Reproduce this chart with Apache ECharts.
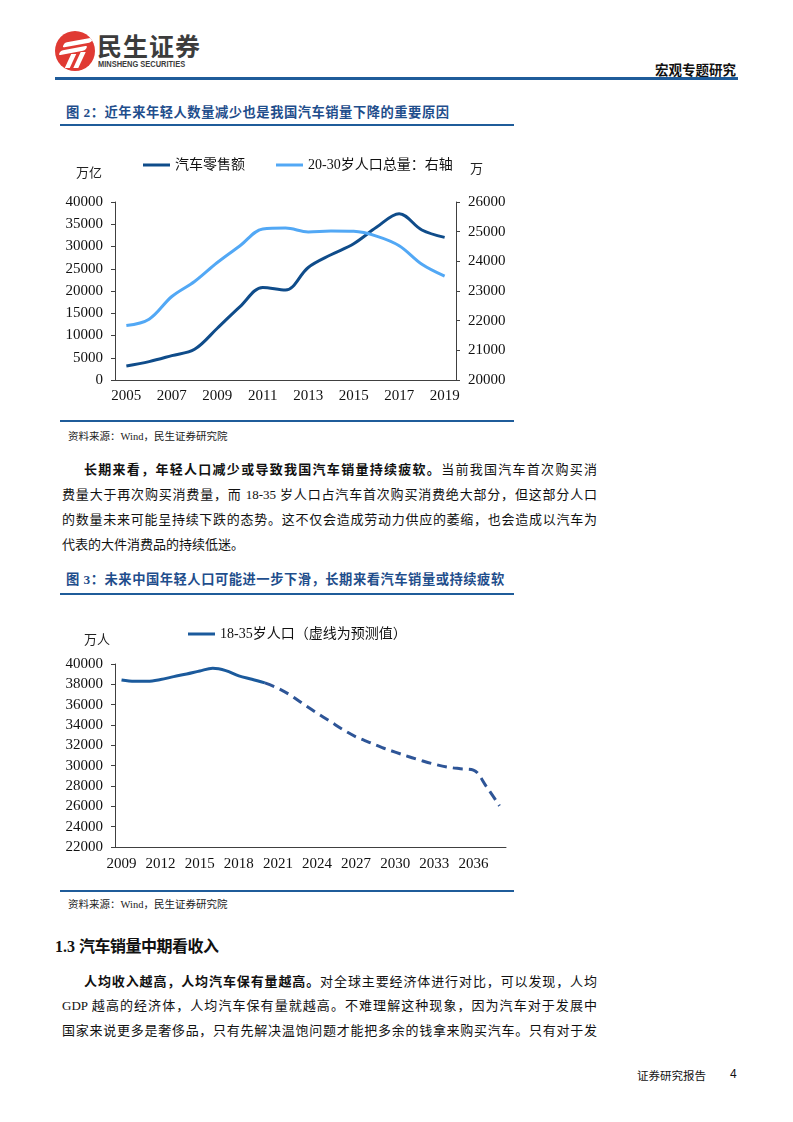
<!DOCTYPE html>
<html><head><meta charset="utf-8">
<script src="https://cdn.jsdelivr.net/npm/echarts@6/dist/echarts.min.js"></script>
<style>
html,body{margin:0;padding:0;background:#fff;}
#page{position:relative;width:793px;height:1122px;overflow:hidden;background:#fff;font-family:"Liberation Serif","Noto Sans CJK SC",serif;color:#111;}
.abs{position:absolute;}
.hline{position:absolute;background:#1F5C9A;}
.ftitle{position:absolute;left:66px;font-size:13.3px;font-weight:700;color:#1F4E8C;letter-spacing:0.5px;white-space:nowrap;line-height:16px;}
.src{position:absolute;left:68px;font-size:10.5px;color:#222;white-space:nowrap;line-height:14px;}
.ln{position:absolute;left:62px;width:535px;font-size:13px;line-height:16px;text-align:justify;text-align-last:justify;color:#111;}
.ln.ind{left:84px;width:513px;}
.ln.last{text-align-last:left;letter-spacing:0;}
.ln b{font-weight:700;}
</style></head>
<body><div id="page">
  <!-- logo -->
  <div class="abs" style="left:55px;top:31px;width:40px;height:40px;border-radius:50%;background:#E03A33;overflow:hidden;">
    <div class="abs" style="left:10px;top:9px;width:26px;height:5px;background:#fff;transform:skewX(-35deg) rotate(-12deg);border-radius:2px;"></div>
    <div class="abs" style="left:6px;top:17px;width:24px;height:5px;background:#fff;transform:skewX(-35deg) rotate(-12deg);border-radius:2px;"></div>
    <div class="abs" style="left:13px;top:23px;width:5px;height:14px;background:#fff;transform:skewX(-25deg);"></div>
    <div class="abs" style="left:22px;top:21px;width:5px;height:16px;background:#fff;transform:skewX(-25deg);"></div>
  </div>
  <div class="abs" style="left:97px;top:30px;font-family:'Noto Sans CJK SC';font-weight:700;font-size:25px;line-height:30px;color:#3C3C3C;letter-spacing:1px;">民生证券</div>
  <div class="abs" style="left:98px;top:59px;font-family:'Liberation Sans','Noto Sans';font-weight:700;font-size:8.3px;line-height:10px;color:#3C3C3C;transform:scaleX(0.9);transform-origin:left;">MINSHENG SECURITIES</div>
  <div class="abs" style="left:655px;top:61px;font-family:'Noto Sans CJK SC';font-weight:700;font-size:13.5px;line-height:16px;color:#111;">宏观专题研究</div>
  <div class="hline" style="left:55px;top:77px;width:683px;height:3px;"></div>

  <!-- figure 2 -->
  <div class="ftitle" style="top:104px;"><span style="font-family:'Noto Sans CJK SC'">图</span> 2<span style="font-family:'Noto Sans CJK SC'">：近年来年轻人数量减少也是我国汽车销量下降的重要原因</span></div>
  <div class="hline" style="left:60px;top:124px;width:454px;height:2px;"></div>
  <div id="c1" class="abs" style="left:60px;top:130px;width:460px;height:285px;"></div>
  <div class="hline" style="left:60px;top:420px;width:454px;height:2px;"></div>
  <div class="src" style="top:430px;">资料来源：Wind，民生证券研究院</div>

  <div class="ln ind" style="top:462px;"><b>长期来看，年轻人口减少或导致我国汽车销量持续疲软。</b>当前我国汽车首次购买消</div>
  <div class="ln" style="top:487px;">费量大于再次购买消费量，而 18-35 岁人口占汽车首次购买消费绝大部分，但这部分人口</div>
  <div class="ln" style="top:512px;">的数量未来可能呈持续下跌的态势。这不仅会造成劳动力供应的萎缩，也会造成以汽车为</div>
  <div class="ln last" style="top:537px;">代表的大件消费品的持续低迷。</div>

  <!-- figure 3 -->
  <div class="ftitle" style="top:571px;"><span style="font-family:'Noto Sans CJK SC'">图</span> 3<span style="font-family:'Noto Sans CJK SC'">：未来中国年轻人口可能进一步下滑，长期来看汽车销量或持续疲软</span></div>
  <div class="hline" style="left:60px;top:593px;width:454px;height:2px;"></div>
  <div id="c2" class="abs" style="left:60px;top:600px;width:460px;height:290px;"></div>
  <div class="hline" style="left:60px;top:890px;width:454px;height:2px;"></div>
  <div class="src" style="top:898px;">资料来源：Wind，民生证券研究院</div>

  <div class="abs" style="left:55px;top:934px;font-size:16px;font-weight:700;line-height:22px;white-space:nowrap;color:#111;">1.3 <span style="font-family:'Noto Sans CJK SC';letter-spacing:-0.5px;">汽车销量中期看收入</span></div>

  <div class="ln ind" style="top:974px;"><b>人均收入越高，人均汽车保有量越高。</b>对全球主要经济体进行对比，可以发现，人均</div>
  <div class="ln" style="top:998px;">GDP 越高的经济体，人均汽车保有量就越高。不难理解这种现象，因为汽车对于发展中</div>
  <div class="ln" style="top:1023px;">国家来说更多是奢侈品，只有先解决温饱问题才能把多余的钱拿来购买汽车。只有对于发</div>

  <div class="abs" style="left:637px;top:1068px;font-family:'Noto Sans CJK SC';font-size:11.5px;line-height:14px;color:#111;">证券研究报告</div>
  <div class="abs" style="left:730px;top:1067px;font-family:'Liberation Sans';font-size:12px;line-height:14px;color:#111;">4</div>
</div>
<script>
// ---- Figure 2 data ----
const years1 = ['2005','2006','2007','2008','2009','2010','2011','2012','2013','2014','2015','2016','2017','2018','2019'];
const autoRetail = [3150, 4130, 5480, 6900, 11630, 16510, 20800, 20200, 25290, 28140, 30620, 34300, 37370, 33700, 32050];
const youth2030 = [21835, 22050, 22815, 23320, 23960, 24525, 25090, 25120, 24990, 25020, 25010, 24850, 24525, 23900, 23500];
const leftTicks1 = {min: 0, max: 40000, step: 5000};
const rightTicks1 = {min: 20000, max: 26000, step: 1000};

// ---- Figure 3 data ----
const years2 = ['2009','2010','2011','2012','2013','2014','2015','2016','2017','2018','2019','2020','2021','2022','2023','2024','2025','2026','2027','2028','2029','2030','2031','2032','2033','2034','2035','2036','2037','2038'];
const popActual = [38435, 38300, 38300, 38470, 38760, 39020, 39315, 39575, 39350, 38830, 38500, 38140];
const popForecast = [38140, 37620, 36900, 36020, 35170, 34360, 33540, 32830, 32300, 31780, 31330, 30900, 30510, 30150, 29860, 29700, 29570, 27940, 26050];
const ticks2 = {min: 22000, max: 40000, step: 2000};

const FONT = '"Liberation Serif","Noto Sans CJK SC",serif';
const CJK = '"Noto Sans CJK SC",sans-serif';
const axisCol = '#404040';

function yAxisBase(t, pos){
  return {
    type: 'value', position: pos, min: t.min, max: t.max, interval: t.step,
    axisLine: {show: true, lineStyle: {color: axisCol, width: 1}},
    axisTick: {show: true, length: 4, lineStyle: {color: axisCol}},
    splitLine: {show: false},
    axisLabel: {color: '#111', fontSize: 15, fontFamily: FONT, margin: 12, formatter: v => String(v)}
  };
}

const c1 = echarts.init(document.getElementById('c1'), null, {renderer: 'canvas'});
c1.setOption({
  animation: false,
  grid: {left: 55, top: 72, width: 341, height: 178, containLabel: false},
  legend: {
    left: 78, top: 23, itemWidth: 27, itemHeight: 3, itemGap: 31, icon: 'rect',
    textStyle: {fontSize: 14, fontFamily: FONT, color: '#111', padding: [0,0,0,0]},
    data: ['汽车零售额', '20-30岁人口总量：右轴']
  },
  xAxis: {
    type: 'category', data: years1, boundaryGap: true,
    axisLine: {lineStyle: {color: axisCol}},
    axisTick: {interval: 1, length: 4, lineStyle: {color: axisCol}},
    axisLabel: {interval: 1, color: '#111', fontSize: 15, fontFamily: FONT, margin: 9}
  },
  yAxis: [
    Object.assign(yAxisBase(leftTicks1, 'left'), {
      name: '万亿', nameLocation: 'end', nameGap: 30,
      nameTextStyle: {fontFamily: CJK, fontSize: 13, color: '#222', align: 'right', verticalAlign: 'middle', padding: [0, 13, 0, 0]}
    }),
    Object.assign(yAxisBase(rightTicks1, 'right'), {
      name: '万', nameLocation: 'end', nameGap: 34,
      nameTextStyle: {fontFamily: CJK, fontSize: 13, color: '#222', align: 'left', verticalAlign: 'middle', padding: [0, 0, 0, 14]}
    })
  ],
  series: [
    {name: '汽车零售额', type: 'line', data: autoRetail, yAxisIndex: 0, smooth: 0.35, symbol: 'none',
     lineStyle: {color: '#0F4C8A', width: 3}, itemStyle: {color: '#0F4C8A'}},
    {name: '20-30岁人口总量：右轴', type: 'line', data: youth2030, yAxisIndex: 1, smooth: 0.35, symbol: 'none',
     lineStyle: {color: '#52A8F5', width: 3}, itemStyle: {color: '#52A8F5'}}
  ]
});

const padNull = (arr, before, total) => {
  const out = new Array(before).fill(null).concat(arr);
  while (out.length < total) out.push(null);
  return out;
};

const c2 = echarts.init(document.getElementById('c2'), null, {renderer: 'canvas'});
c2.setOption({
  animation: false,
  grid: {left: 55, top: 64, width: 391, height: 183, containLabel: false},
  legend: {
    left: 123, top: 22, itemWidth: 27, itemHeight: 3, icon: 'rect',
    textStyle: {fontSize: 14, fontFamily: FONT, color: '#111'},
    data: ['18-35岁人口（虚线为预测值）']
  },
  xAxis: {
    type: 'category', data: years2, boundaryGap: true,
    axisLine: {lineStyle: {color: axisCol}},
    axisTick: {interval: 2, length: 4, lineStyle: {color: axisCol}},
    axisLabel: {interval: 2, color: '#111', fontSize: 15, fontFamily: FONT, margin: 10}
  },
  yAxis: Object.assign(yAxisBase(ticks2, 'left'), {
    name: '万人', nameLocation: 'end', nameGap: 25,
    nameTextStyle: {fontFamily: CJK, fontSize: 13, color: '#222', align: 'right', verticalAlign: 'middle', padding: [0, 5, 0, 0]}
  }),
  series: [
    {name: '18-35岁人口（虚线为预测值）', type: 'line', data: padNull(popActual, 0, years2.length), smooth: 0.35, symbol: 'none',
     lineStyle: {color: '#1B5A9C', width: 3}, itemStyle: {color: '#1B5A9C'}},
    {name: '预测', type: 'line', data: padNull(popForecast, years2.length - popForecast.length, years2.length), smooth: 0.35, symbol: 'none',
     lineStyle: {color: '#2E5597', width: 3, type: [10, 6]}, itemStyle: {color: '#2E5597'}}
  ]
});
</script>
</body></html>
